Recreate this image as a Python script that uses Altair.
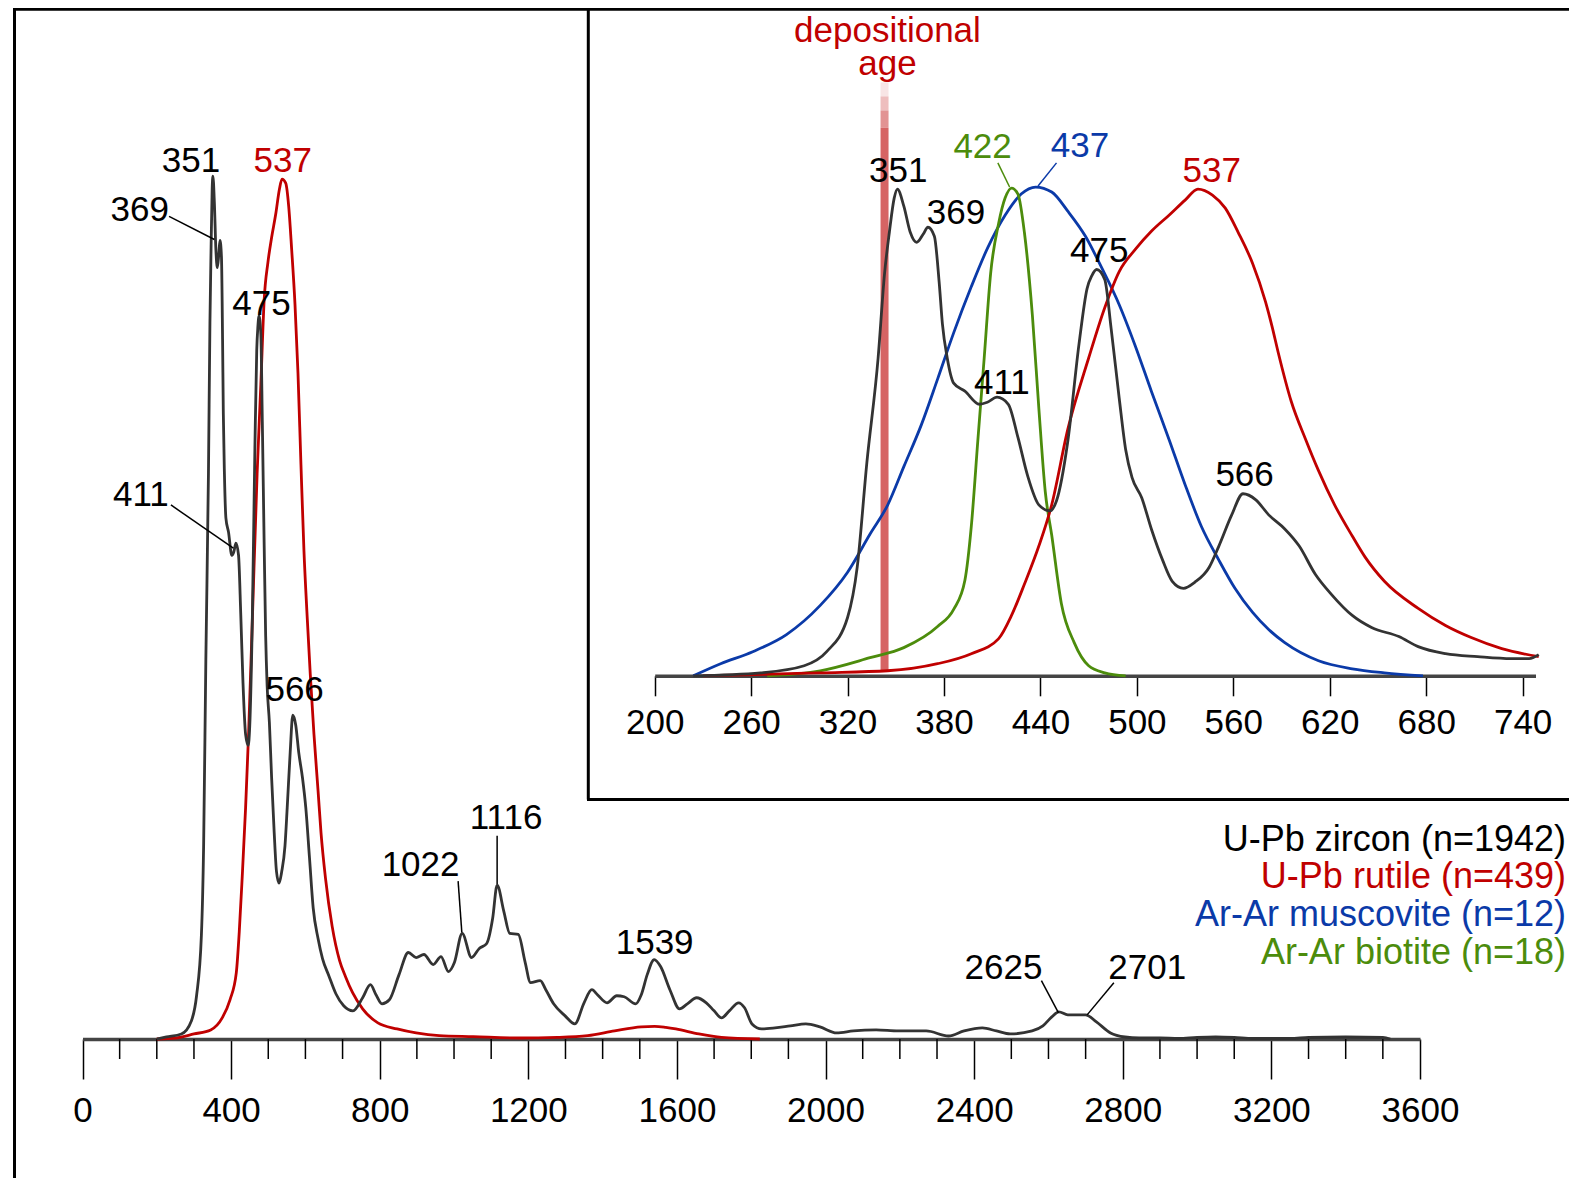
import altair as alt
import pandas as pd

# ---------------- data (ages in Ma, relative probability heights) ----------------
zircon_main_age = [200, 226, 266, 293, 307, 320, 326, 332, 339, 343, 346, 349, 351, 355, 359, 363, 367, 370, 374, 377,
                   379, 382, 386, 393, 402, 407, 413, 420, 426, 432, 439, 446, 450, 457, 464, 469, 472, 475, 480, 484,
                   489, 493, 497, 503, 509, 516, 522, 529, 536, 545, 551, 559, 566, 574, 582, 592, 601, 611, 621, 634,
                   646, 663, 682, 703, 728, 754, 775, 790, 806, 826, 852, 877, 898, 919, 944, 965, 985, 1001, 1022, 1047,
                   1068, 1088, 1104, 1116, 1134, 1150, 1173, 1191, 1206, 1232, 1247, 1268, 1299, 1325, 1350, 1371, 1386,
                   1412, 1438, 1458, 1489, 1504, 1520, 1539, 1556, 1581, 1607, 1628, 1653, 1679, 1700, 1720, 1741, 1766,
                   1782, 1802, 1828, 1864, 1905, 1947, 1985, 2030, 2075, 2136, 2196, 2271, 2331, 2373, 2422, 2460, 2497,
                   2556, 2585, 2609, 2628, 2652, 2700, 2729, 2767, 2806, 2844, 2900, 2950, 3000, 3050, 3100, 3150, 3250,
                   3300, 3400, 3500, 3520]
zircon_main_val = [0, 2, 5, 18, 43, 103, 192, 377, 562, 712, 785, 845, 858, 831, 785, 767, 781, 794, 778, 696,
                   623, 562, 518, 504, 481, 484, 493, 481, 422, 354, 303, 292, 310, 415, 587, 685, 708, 719, 701, 614,
                   491, 401, 351, 315, 260, 205, 167, 155, 166, 192, 230, 285, 322, 312, 285, 260, 230, 180, 130, 100,
                   80, 63, 45, 33, 28, 41, 54, 44, 35, 39, 64, 86, 81, 84, 74, 82, 67, 76, 105, 81,
                   90, 95, 120, 153, 127, 105, 104, 77, 56, 58, 49, 35, 23, 15, 36, 49, 44,
                   36, 43, 42, 35, 44, 64, 79, 72, 49, 30, 35, 41, 36, 28, 21, 28, 36,
                   31, 15, 10, 11, 13, 15, 12, 6, 8, 9, 8, 8, 3, 8, 11, 8, 5,
                   8, 13, 22, 27, 24, 24, 17, 6, 2, 1, 1, 0.5, 1.5, 2, 1.5, 0.5, 0.5,
                   1.5, 2, 1.5, 0]

rutile_main_age = [200, 250, 300, 345, 376, 397, 414, 422, 430, 439, 447, 457, 470, 480, 489, 499, 509, 520, 530, 537,
                   547, 555, 563, 572, 580, 588, 596, 605, 613, 623, 634, 642, 654, 672, 692, 708, 727, 754, 795, 847,
                   898, 960, 1052, 1175, 1278, 1360, 1432, 1504, 1540, 1570, 1597, 1659, 1720, 1823]
rutile_main_val = [0, 1, 5, 9, 21, 39, 66, 107, 162, 230, 303, 415, 562, 651, 735, 772, 797, 820, 845, 855,
                   851, 828, 785, 730, 662, 571, 486, 418, 363, 303, 247, 205, 160, 112, 78, 62, 46, 30, 16, 10,
                   6, 3.3, 2.3, 1, 1.6, 3.3, 8, 12, 12.5, 11.5, 10, 5, 1.6, 0]

zircon_inset_age = [224, 266, 293, 307, 320, 326, 332, 339, 343, 346, 349, 351, 355, 359, 363, 367, 370, 374, 377, 379,
                    382, 386, 393, 402, 407, 413, 420, 426, 432, 439, 446, 450, 457, 464, 469, 472, 475, 480, 484, 489,
                    493, 497, 503, 509, 516, 522, 529, 536, 545, 551, 559, 566, 574, 582, 592, 601, 611, 621, 634, 646,
                    663, 675, 692, 712, 733, 744, 750]
zircon_inset_val = [0, 3, 10, 24, 58, 108, 212, 316, 400, 441, 475, 484, 467, 441, 431, 439, 446, 437, 391, 350,
                    316, 291, 283, 270, 272, 277, 270, 237, 199, 170, 164, 174, 233, 330, 385, 398, 404, 394, 345, 276,
                    225, 197, 177, 146, 115, 94, 87, 93, 108, 129, 160, 181, 175, 160, 146, 129, 101, 81, 60, 48,
                    39, 29, 22, 19, 17, 17, 21]

rutile_inset_age = [230, 257, 303, 345, 376, 397, 414, 422, 430, 439, 447, 457, 470, 480, 489, 499, 509, 520, 530, 538,
                    547, 555, 563, 572, 580, 584, 588, 596, 605, 613, 623, 634, 642, 654, 675, 692, 708, 727, 750]
rutile_inset_val = [0, 1, 3, 5, 12, 22, 37, 60, 91, 129, 170, 245, 316, 366, 402, 424, 442, 458, 473, 484,
                    478, 465, 441, 410, 372, 348, 321, 273, 235, 204, 170, 139, 118, 94, 67, 50, 38, 27, 19]

musc_inset_age = [224, 241, 261, 282, 303, 320, 334, 345, 355, 366, 376, 386, 397, 407, 418, 428, 437, 447, 457, 468,
                  478, 489, 499, 509, 520, 530, 540, 551, 561, 572, 582, 592, 613, 634, 654, 678]
musc_inset_val = [0, 12, 24, 41, 70, 103, 141, 170, 208, 250, 295, 341, 387, 425, 458, 479, 486, 481, 462, 437,
                  406, 369, 328, 283, 235, 190, 149, 115, 87, 63, 46, 33, 15, 7, 3, 0]

biot_inset_age = [270, 303, 334, 355, 376, 386, 393, 397, 401, 405, 409, 414, 418, 422, 426, 430, 435, 439, 443, 447,
                  453, 461, 470, 480, 493]
biot_inset_val = [0, 5, 18, 28, 49, 66, 95, 149, 233, 316, 400, 450, 475, 485, 479, 441, 358, 266, 183, 140,
                  72, 33, 10, 3, 0]

main_ticks_major = [0, 400, 800, 1200, 1600, 2000, 2400, 2800, 3200, 3600]
main_ticks_minor = [100, 200, 300, 500, 600, 700, 900, 1000, 1100, 1300, 1400, 1500, 1700, 1800, 1900,
                    2100, 2200, 2300, 2500, 2600, 2700, 2900, 3000, 3100, 3300, 3400, 3500]
inset_ticks = [200, 260, 320, 380, 440, 500, 560, 620, 680, 740]

main_label_text = ["351", "537", "369", "475", "411", "566", "1022", "1116", "1539", "2625", "2701"]
main_label_age = [292, 539, 154, 482, 157, 571, 910, 1140, 1540, 2479, 2866]
main_label_val = [873, 873, 824, 731, 541, 347, 173, 220, 95, 71, 71]
main_label_col = ["#000000", "#c00000", "#000000", "#000000", "#000000", "#000000", "#000000", "#000000",
                  "#000000", "#000000", "#000000"]

main_leader_age = [233, 238, 1011, 1116, 2581, 2776]
main_leader_age2 = [355, 406, 1021, 1116, 2627, 2704]
main_leader_val = [818, 531, 157, 202, 58, 56]
main_leader_val2 = [795, 488, 106, 154, 26, 24]

inset_label_text = ["351", "369", "422", "437", "411", "475", "537", "566"]
inset_label_age = [351.5, 387.5, 404, 464.6, 416, 476.6, 546.6, 567]
inset_label_val = [502, 460, 526, 527, 291, 422, 502, 200]
inset_label_col = ["#000000", "#000000", "#4c8c0c", "#0b3aa8", "#000000", "#000000", "#c00000", "#000000"]

dep_text = ["depositional", "age"]
dep_age = [344.8, 344.8]
dep_val = [641, 608]
dep_col = ["#c00000", "#c00000"]

inset_leader_age = [413.5, 450]
inset_leader_age2 = [420.8, 438.5]
inset_leader_val = [510, 510]
inset_leader_val2 = [486, 487]
inset_leader_col = ["#4c8c0c", "#0b3aa8"]

depositional_age = 343
band_lo = [5, 545, 562, 576]
band_hi = [545, 562, 576, 590]
band_op = [0.72, 0.5, 0.3, 0.12]

legend_text = ["U-Pb zircon (n=1942)", "U-Pb rutile (n=439)", "Ar-Ar muscovite (n=12)", "Ar-Ar biotite (n=18)"]
legend_col = ["#000000", "#c00000", "#0b3aa8", "#4c8c0c"]
legend_val = [198, 161, 123, 86]

# ---------------- styling ----------------
FONT = "Liberation Sans"
FS = 35
FS_WORD = 36
W, H = 1561, 1170
ZC, RC, BC, GC = "#333333", "#c00000", "#0b3aa8", "#4c8c0c"

mx = alt.Scale(domain=[0, 3600], range=[74.5, 1412], nice=False, zero=False)
my = alt.Scale(domain=[0, 1000], range=[1031, 25.3], nice=False, zero=False)
ix = alt.Scale(domain=[200, 748], range=[646.7, 1527.5], nice=False, zero=False)
iy = alt.Scale(domain=[0, 1000], range=[667.8, -337.9], nice=False, zero=False)

main_axis = alt.Axis(values=main_ticks_major, orient="bottom", offset=-139, tickSize=40, tickWidth=1.5,
                     tickColor="#000000", domainColor="#444444", domainWidth=3.5, labelFont=FONT,
                     labelFontSize=FS, labelColor="#000000", labelPadding=14, labelFlush=False,
                     labelOverlap=False, grid=False, title=None, format="d")
inset_axis = alt.Axis(values=inset_ticks, orient="bottom", offset=-502.2, tickSize=20, tickWidth=1.5,
                      tickColor="#000000", domainColor="#444444", domainWidth=3.5, labelFont=FONT,
                      labelFontSize=FS, labelColor="#000000", labelPadding=10, labelFlush=False,
                      labelOverlap=False, grid=False, title=None, format="d")


def curve(ages, vals, color, xs, ys, ax):
    df = pd.DataFrame({"age": ages, "h": vals})
    return alt.Chart(df).mark_line(color=color, strokeWidth=2.8, strokeJoin="round",
                                   interpolate="monotone").encode(
        x=alt.X("age:Q", scale=xs, axis=ax),
        y=alt.Y("h:Q", scale=ys, axis=None),
    )


def labels(texts, ages, vals, cols, xs, ys, ax, align="center", size=FS):
    df = pd.DataFrame({"t": texts, "age": ages, "h": vals, "c": cols})
    return alt.Chart(df).mark_text(font=FONT, fontSize=size, align=align, baseline="middle").encode(
        x=alt.X("age:Q", scale=xs, axis=ax),
        y=alt.Y("h:Q", scale=ys, axis=None),
        text="t:N",
        color=alt.Color("c:N", scale=None),
    )


def leaders(a1, a2, v1, v2, cols, xs, ys, ax):
    df = pd.DataFrame({"a1": a1, "a2": a2, "v1": v1, "v2": v2, "c": cols})
    return alt.Chart(df).mark_rule(strokeWidth=1.5).encode(
        x=alt.X("a1:Q", scale=xs, axis=ax), x2="a2:Q",
        y=alt.Y("v1:Q", scale=ys, axis=None), y2="v2:Q",
        color=alt.Color("c:N", scale=None),
    )


# ---- main panel ----
minor_df = pd.DataFrame({"t": main_ticks_minor})
minor = alt.Chart(minor_df).mark_rule(color="#000000", strokeWidth=1.5).encode(
    x=alt.X("t:Q", scale=mx, axis=main_axis),
    y=alt.YDatum(0, scale=my, axis=None),
    y2=alt.Y2Datum(-19.9),
)

main_group = alt.layer(
    minor,
    curve(rutile_main_age, rutile_main_val, RC, mx, my, main_axis),
    curve(zircon_main_age, zircon_main_val, ZC, mx, my, main_axis),
    leaders(main_leader_age, main_leader_age2, main_leader_val, main_leader_val2,
            ["#000000"] * len(main_leader_age), mx, my, main_axis),
    labels(main_label_text, main_label_age, main_label_val, main_label_col, mx, my, main_axis),
    labels(legend_text, [3993] * len(legend_text), legend_val, legend_col, mx, my, main_axis,
           align="right", size=FS_WORD),
)

# ---- inset panel ----
band_df = pd.DataFrame({"age": [depositional_age] * len(band_lo), "lo": band_lo, "hi": band_hi, "op": band_op})
band = alt.Chart(band_df).mark_rule(color="#c62828", strokeWidth=8).encode(
    x=alt.X("age:Q", scale=ix, axis=inset_axis),
    y=alt.Y("lo:Q", scale=iy, axis=None), y2="hi:Q",
    opacity=alt.Opacity("op:Q", scale=None),
)

inset_group = alt.layer(
    band,
    curve(musc_inset_age, musc_inset_val, BC, ix, iy, inset_axis),
    curve(biot_inset_age, biot_inset_val, GC, ix, iy, inset_axis),
    curve(rutile_inset_age, rutile_inset_val, RC, ix, iy, inset_axis),
    curve(zircon_inset_age, zircon_inset_val, ZC, ix, iy, inset_axis),
    leaders(inset_leader_age, inset_leader_age2, inset_leader_val, inset_leader_val2,
            inset_leader_col, ix, iy, inset_axis),
    labels(inset_label_text, inset_label_age, inset_label_val, inset_label_col, ix, iy, inset_axis),
    labels(dep_text, dep_age, dep_val, dep_col, ix, iy, inset_axis, size=FS),
)

# ---- frames ----
one = pd.DataFrame({"k": [0]})
frames = [
    alt.Chart(one).mark_rule(color="#000000", strokeWidth=3).encode(
        x=alt.value(6.5), x2=alt.value(6.5), y=alt.value(0), y2=alt.value(H)),
    alt.Chart(one).mark_rule(color="#000000", strokeWidth=3).encode(
        x=alt.value(5), x2=alt.value(W), y=alt.value(1.2), y2=alt.value(1.2)),
    alt.Chart(one).mark_rule(color="#000000", strokeWidth=3).encode(
        x=alt.value(580.3), x2=alt.value(580.3), y=alt.value(0), y2=alt.value(791.5)),
    alt.Chart(one).mark_rule(color="#000000", strokeWidth=3).encode(
        x=alt.value(579), x2=alt.value(W), y=alt.value(791.5), y2=alt.value(791.5)),
]

chart = alt.layer(*frames, main_group, inset_group).resolve_scale(
    x="independent", y="independent"
).properties(
    width=W, height=H, padding=0, autosize=alt.AutoSizeParams(type="none"), background="white"
).configure_view(strokeWidth=0)

chart.save("out.html", embed_options={"renderer": "svg", "actions": False})
